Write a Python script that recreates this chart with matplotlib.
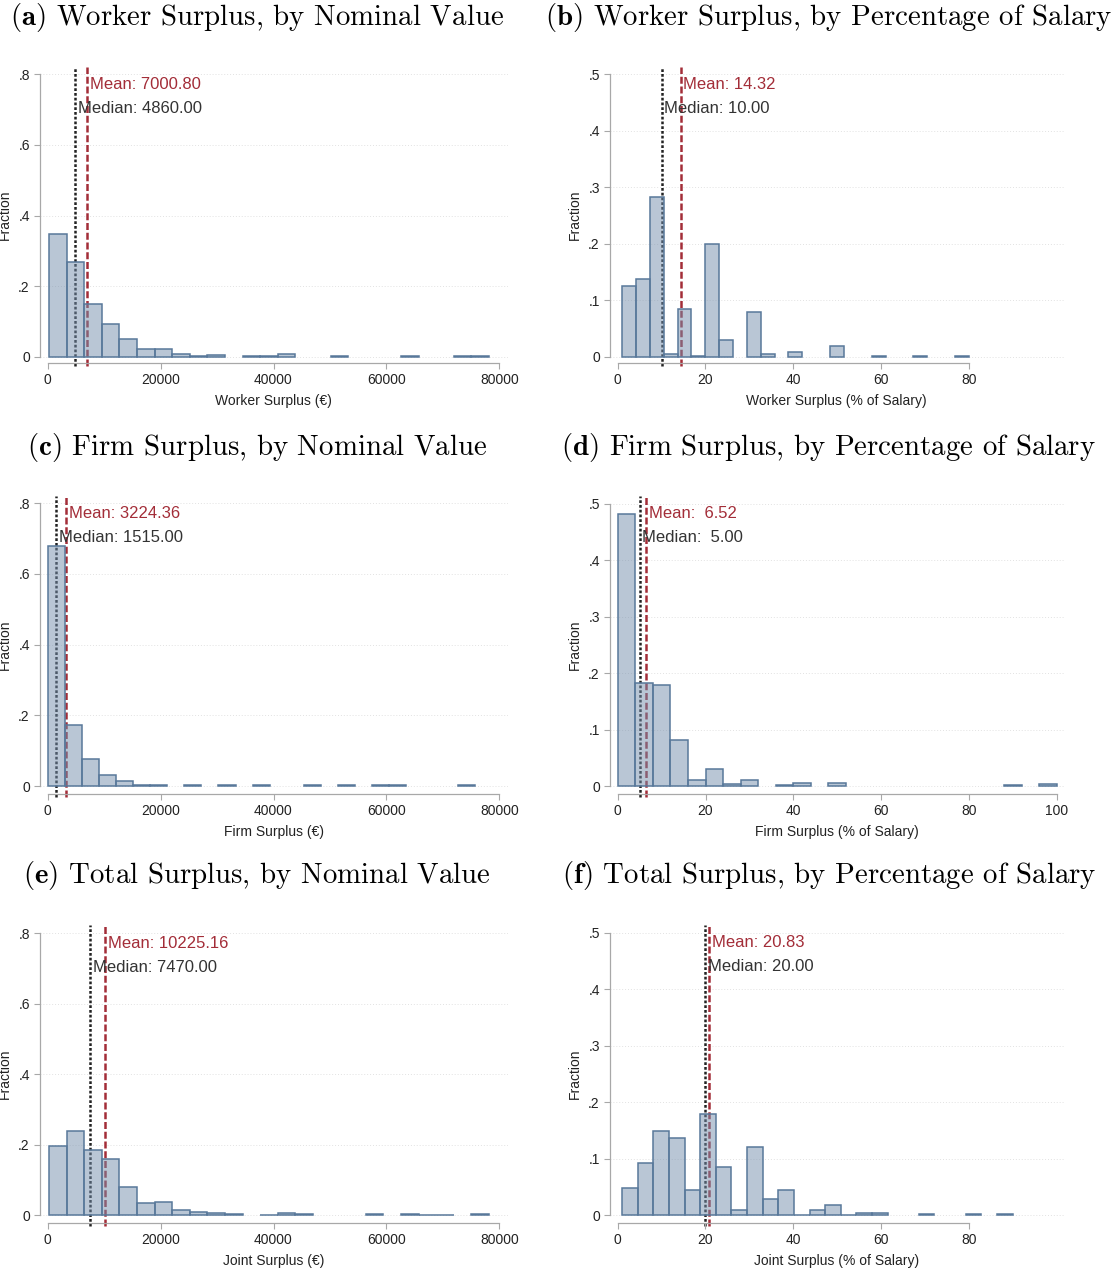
import numpy as np
import matplotlib
matplotlib.use("Agg")
import matplotlib.pyplot as plt

plt.rcParams['font.family'] = ['Liberation Sans', 'DejaVu Sans']
plt.rcParams['mathtext.fontset'] = 'cm'

W, H = 1116, 1268

# ---- data (fraction per bin, 25 bins each) ----
titles = [r"$\bf{(a)}$ Worker Surplus, by Nominal Value",
          r"$\bf{(b)}$ Worker Surplus, by Percentage of Salary",
          r"$\bf{(c)}$ Firm Surplus, by Nominal Value",
          r"$\bf{(d)}$ Firm Surplus, by Percentage of Salary",
          r"$\bf{(e)}$ Total Surplus, by Nominal Value",
          r"$\bf{(f)}$ Total Surplus, by Percentage of Salary"]
xlabels = ["Worker Surplus (€)", "Worker Surplus (% of Salary)",
           "Firm Surplus (€)", "Firm Surplus (% of Salary)",
           "Joint Surplus (€)", "Joint Surplus (% of Salary)"]

bin_start = [240, 1, 0, 0, 240, 1]
bin_width = [3117, 3.16, 3025, 4, 3117, 3.56]

frac_a = [0.349, 0.269, 0.148, 0.094, 0.049, 0.022, 0.021, 0.008, 0.002, 0.005, 0, 0.002, 0.002,
          0.007, 0, 0, 0.002, 0, 0, 0, 0.002, 0, 0, 0.002, 0.002]
frac_b = [0.126, 0.138, 0.282, 0.004, 0.085, 0.002, 0.200, 0.030, 0, 0.080, 0.005, 0, 0.009,
          0, 0, 0.019, 0, 0, 0.001, 0, 0, 0.001, 0, 0, 0.001]
frac_c = [0.679, 0.174, 0.077, 0.030, 0.013, 0.003, 0.002, 0, 0.002, 0, 0.002, 0, 0.002,
          0, 0, 0.002, 0, 0.002, 0, 0.003, 0.002, 0, 0, 0, 0.002]
frac_d = [0.481, 0.182, 0.179, 0.081, 0.010, 0.030, 0.004, 0.010, 0, 0.001, 0.005, 0, 0.005,
          0, 0, 0, 0, 0, 0, 0, 0, 0, 0.001, 0, 0.003]
frac_e = [0.196, 0.240, 0.186, 0.159, 0.079, 0.034, 0.038, 0.015, 0.008, 0.007, 0.003, 0, 0.002,
          0.006, 0.004, 0, 0, 0, 0.003, 0, 0.003, 0.002, 0.002, 0, 0.003]
frac_f = [0.048, 0.093, 0.150, 0.137, 0.045, 0.179, 0.086, 0.009, 0.120, 0.028, 0.045, 0.001, 0.010,
          0.019, 0.001, 0.004, 0.004, 0, 0, 0.003, 0, 0, 0.003, 0, 0.002]
fracs = [frac_a, frac_b, frac_c, frac_d, frac_e, frac_f]

means = [7000.80, 14.32, 3224.36, 6.52, 10225.16, 20.83]
medians = [4860.00, 10.00, 1515.00, 5.00, 7470.00, 20.00]
mean_txt = ["Mean: 7000.80", "Mean: 14.32", "Mean: 3224.36", "Mean:  6.52", "Mean: 10225.16", "Mean: 20.83"]
med_txt = ["Median: 4860.00", "Median: 10.00", "Median: 1515.00", "Median:  5.00", "Median: 7470.00", "Median: 20.00"]

xticks_nom = [0, 20000, 40000, 60000, 80000]
xticks = [xticks_nom, [0, 20, 40, 60, 80], xticks_nom, [0, 20, 40, 60, 80, 100], xticks_nom, [0, 20, 40, 60, 80]]
yticks_8 = [0, 0.2, 0.4, 0.6, 0.8]
yticks_5 = [0, 0.1, 0.2, 0.3, 0.4, 0.5]
yticks = [yticks_8, yticks_5, yticks_8, yticks_5, yticks_8, yticks_5]

# ---- layout in pixels: axes box and pixel positions of the end ticks ----
boxes = [(39.5, 67, 508, 363), (609.5, 67, 1064, 363),
         (39.5, 496, 508, 794), (609.5, 496, 1065, 794),
         (39.5, 925, 508, 1223), (609.5, 925, 1064, 1223)]
xmaps = [(0, 47.7, 80000, 499.3), (0, 617.7, 80, 968.7),
         (0, 47.7, 80000, 499.3), (0, 617.7, 100, 1056.7),
         (0, 47.7, 80000, 499.3), (0, 617.7, 80, 968.7)]
ymaps = [(0, 356.7, 0.8, 74.3), (0, 356.7, 0.5, 74.3),
         (0, 786, 0.8, 503.3), (0, 786, 0.5, 503.7),
         (0, 1215.3, 0.8, 933.3), (0, 1215.3, 0.5, 932.7)]
title_pos = [(257, 18), (829, 18), (257, 447), (828, 447), (257, 876), (829, 876)]

bar_face = (0.46, 0.56, 0.68, 0.5)
bar_edge = '#58789a'
red = '#a32d38'

fig = plt.figure(figsize=(W / 100, H / 100), dpi=100)

for i in range(6):
    l, t, r, b = boxes[i]
    ax = fig.add_axes([l / W, 1 - b / H, (r - l) / W, (b - t) / H])
    v0, p0, v1, p1 = xmaps[i]
    k = (p1 - p0) / (v1 - v0)
    ax.set_xlim(v0 + (l - p0) / k, v0 + (r - p0) / k)
    v0, p0, v1, p1 = ymaps[i]
    ky = (p0 - p1) / (v1 - v0)
    ax.set_ylim(v0 - (b - p0) / ky, v0 + (p0 - t) / ky)

    for yt in yticks[i]:
        ax.axhline(yt, color='#e2e2e2', lw=0.7, ls=(0, (1, 2)), zorder=0)

    ax.axvline(medians[i], ymin=-0.01, ymax=1.0, color='#222222', lw=1.8, ls=(0, (1.1, 0.8)),
               zorder=1, clip_on=False)
    ax.axvline(means[i], ymin=-0.01, ymax=1.0, color=red, lw=1.8, ls=(0, (2.8, 1.1)),
               zorder=1, clip_on=False)

    h = np.array(fracs[i])
    left_edges = bin_start[i] + bin_width[i] * np.arange(len(h))
    keep = h > 0
    ax.bar(left_edges[keep], h[keep], width=bin_width[i], align='edge',
           facecolor=bar_face, edgecolor=bar_edge, linewidth=1.1, zorder=2)

    top = yticks[i][-1]
    ax.annotate(mean_txt[i], xy=(means[i], top), xytext=(2, -7), textcoords='offset points',
                color=red, fontsize=12, va='center', ha='left', zorder=3)
    ax.annotate(med_txt[i], xy=(medians[i], top), xytext=(2, -24.5), textcoords='offset points',
                color='#333333', fontsize=12, va='center', ha='left', zorder=3)

    ax.set_xticks(xticks[i])
    ax.set_xticklabels([str(x) for x in xticks[i]])
    ax.set_yticks(yticks[i])
    ax.set_yticklabels(['0'] + [('%.1f' % y)[1:] for y in yticks[i][1:]])
    for s in ['top', 'right']:
        ax.spines[s].set_visible(False)
    for s in ['left', 'bottom']:
        ax.spines[s].set_color('#a8a8a8')
        ax.spines[s].set_linewidth(0.9)
    ax.spines['left'].set_bounds(0, top)
    ax.spines['bottom'].set_bounds(xticks[i][0], xticks[i][-1])
    ax.tick_params(length=4, width=0.8, color='#a8a8a8', labelsize=10, labelcolor='#222222', pad=3)
    ax.set_xlabel(xlabels[i], fontsize=10, color='#222222', labelpad=5)
    ax.set_ylabel("Fraction", fontsize=10, color='#222222')
    ax.yaxis.set_label_coords(-27.5 / (r - l), 0.5)

    tx, ty = title_pos[i]
    fig.text(tx / W, 1 - ty / H, titles[i], fontfamily='cmr10', fontsize=20.8,
             ha='center', va='center', color='black')

fig.savefig("out.png", dpi=100)
